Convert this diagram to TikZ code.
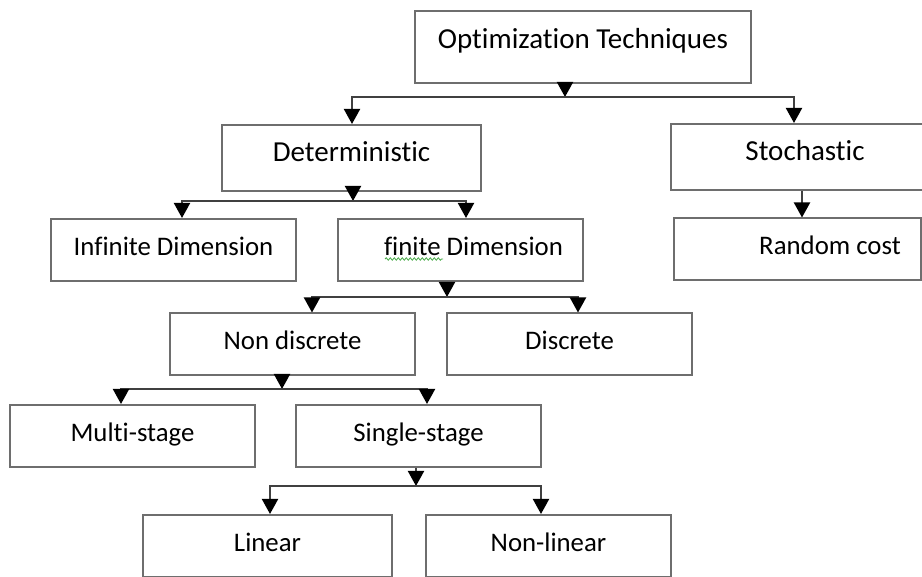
\documentclass[tikz,border=0pt]{standalone}
\usepackage{fontspec}
\setmainfont{Carlito}[Ligatures=NoCommon]
\usetikzlibrary{arrows.meta,decorations.pathmorphing}
\definecolor{boxgray}{RGB}{110,110,110}
\definecolor{linegray}{RGB}{64,64,64}
\definecolor{squiggle}{RGB}{70,170,70}

\begin{document}
\begin{tikzpicture}[x=0.5pt, y=-0.5pt,
    box/.style={draw=boxgray, line width=1pt, inner sep=0pt,
      minimum width=122.5pt, minimum height=31pt,
      font=\fontsize{13.4}{16}\selectfont, text height=0.7em, text depth=0.15em},
    bigbox/.style={box, font=\fontsize{14.5}{17}\selectfont, text depth=0.38em},
    arr/.style={linegray, line width=1pt, -{Triangle[width=8pt,length=7.5pt,color=black]}}]
    \useasboundingbox (0,0) rectangle (922,577);

    % Boxes
    \node[bigbox, minimum width=168pt, minimum height=36pt, text depth=0.5em] (top) at (583,47) {Optimization Techniques};
    \node[bigbox, minimum width=129.5pt, minimum height=33pt] (det) at (351.5,158) {Deterministic};
    \node[bigbox, minimum width=134pt, minimum height=33pt] (sto) at (805,157) {Stochastic};
    \node[box] (inf) at (173.5,250) {Infinite Dimension};
    \node[box] (fin) at (460.5,250) {\hspace*{13pt}finite Dimension};
    \node[box, minimum width=123.5pt] (rnd) at (797,249.5) {\hspace*{33pt}Random cost};
    \node[box] (nond) at (292.5,344.5) {Non discrete};
    \node[box] (disc) at (569.5,344.5) {Discrete};
    \node[box] (multi) at (132.5,436) {Multi-stage};
    \node[box] (single) at (418.5,436) {Single-stage};
    \node[box, minimum width=124.5pt] (lin) at (267.5,546) {Linear};
    \node[box] (nonlin) at (548.5,546) {Non-linear};

    % Spell-check mark under "finite"
    \draw[squiggle, line width=0.4pt, decorate, decoration={snake, amplitude=0.6pt, segment length=2pt}] (385,259) -- (443,259);

    % Optimization Techniques -> Deterministic, Stochastic
    \coordinate (b0) at (565,97);
    \coordinate (b0l) at (352,97);
    \coordinate (b0r) at (794,97);
    \draw[arr] (b0 |- top.south) -- (b0);
    \draw[arr] (b0) -- (b0l) -- (b0l |- det.north);
    \draw[arr] (b0) -- (b0r) -- (b0r |- sto.north);

    % Deterministic -> Infinite, finite
    \coordinate (b1) at (353,201);
    \coordinate (b1l) at (182,201);
    \coordinate (b1r) at (466,201);
    \draw[arr] (b1 |- det.south) -- (b1);
    \draw[arr] (b1) -- (b1l) -- (b1l |- inf.north);
    \draw[arr] (b1) -- (b1r) -- (b1r |- fin.north);

    % Stochastic -> Random cost
    \coordinate (b2) at (802,205);
    \draw[arr] (b2 |- sto.south) -- (b2 |- rnd.north);

    % finite Dimension -> Non discrete, Discrete
    \coordinate (b3) at (447,297);
    \coordinate (b3l) at (312,297);
    \coordinate (b3r) at (578,297);
    \draw[arr] (b3 |- fin.south) -- (b3);
    \draw[arr] (b3) -- (b3l) -- (b3l |- nond.north);
    \draw[arr] (b3) -- (b3r) -- (b3r |- disc.north);

    % Non discrete -> Multi-stage, Single-stage
    \coordinate (b4) at (282,389);
    \coordinate (b4l) at (121,389);
    \coordinate (b4r) at (427,389);
    \draw[arr] (b4 |- nond.south) -- (b4);
    \draw[arr] (b4) -- (b4l) -- (b4l |- multi.north);
    \draw[arr] (b4) -- (b4r) -- (b4r |- single.north);

    % Single-stage -> Linear, Non-linear
    \coordinate (b5) at (416,486);
    \coordinate (b5l) at (270,486);
    \coordinate (b5r) at (541,486);
    \draw[arr] (b5 |- single.south) -- (b5);
    \draw[arr] (b5) -- (b5l) -- (b5l |- lin.north);
    \draw[arr] (b5) -- (b5r) -- (b5r |- nonlin.north);
\end{tikzpicture}
\end{document}
